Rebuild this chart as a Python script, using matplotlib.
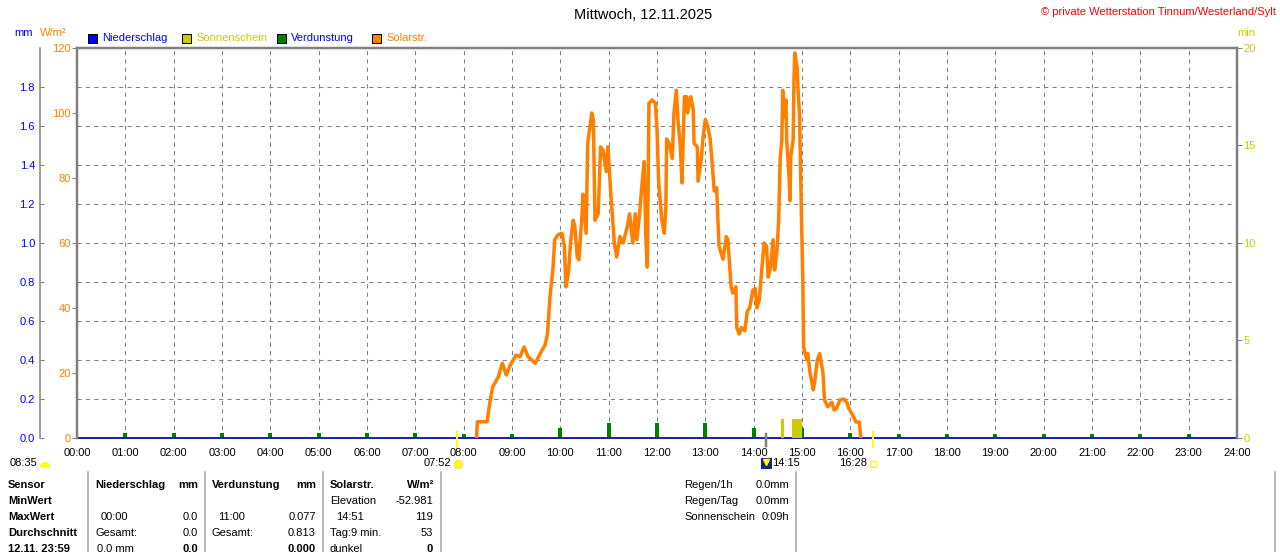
import matplotlib
matplotlib.use('Agg')
import matplotlib.pyplot as plt
import matplotlib.patches as mpatches
from matplotlib.lines import Line2D

plt.rcParams['font.family'] = ['Liberation Sans', 'DejaVu Sans']

W, H = 1280, 552

# --- data ---
solar_times = ["08:16", "08:17", "08:29", "08:33", "08:36", "08:43", "08:48", "08:53", "08:58",
               "09:05", "09:10", "09:15", "09:20", "09:29", "09:35", "09:41", "09:44", "09:47",
               "09:51", "09:53", "09:57", "10:02", "10:05", "10:07", "10:10", "10:13", "10:16",
               "10:18", "10:21", "10:23", "10:27", "10:28", "10:32", "10:34", "10:39", "10:41",
               "10:43", "10:47", "10:50", "10:53", "10:57", "10:59", "11:03", "11:07", "11:10",
               "11:14", "11:18", "11:23", "11:26", "11:30", "11:33", "11:35", "11:38", "11:41",
               "11:44", "11:46", "11:48", "11:50", "11:54", "11:58", "12:00", "12:02", "12:06",
               "12:09", "12:11", "12:12", "12:15", "12:19", "12:21", "12:24", "12:26", "12:29",
               "12:31", "12:34", "12:37", "12:38", "12:42", "12:45", "12:46", "12:50", "12:51",
               "12:55", "12:57", "13:00", "13:03", "13:06", "13:08", "13:11", "13:14", "13:17",
               "13:22", "13:26", "13:28", "13:32", "13:34", "13:38", "13:39", "13:42", "13:45",
               "13:49", "13:52", "13:55", "13:59", "14:02", "14:04", "14:07", "14:10", "14:13",
               "14:16", "14:18", "14:21", "14:24", "14:26", "14:29", "14:31", "14:33", "14:35",
               "14:36", "14:38", "14:40", "14:41", "14:44", "14:45", "14:46", "14:49", "14:50",
               "14:51", "14:54", "14:55", "14:57", "14:59", "15:00", "15:01", "15:02", "15:06",
               "15:07", "15:10", "15:14", "15:16", "15:19", "15:22", "15:26", "15:28", "15:32",
               "15:37", "15:40", "15:43", "15:47", "15:52", "15:56", "15:58", "16:03", "16:07",
               "16:11", "16:13"]
solar_vals = [0, 5, 5, 11.7, 15.7, 18.8, 23, 19.4, 22.5,
              25.5, 25, 28, 25, 23, 26, 28.6, 32, 43,
              52.6, 61, 62.5, 63, 59, 46.5, 50.7, 61, 67,
              65, 55.7, 54.8, 69, 75, 63, 90.7, 100, 98,
              67, 69, 89.6, 88.6, 82, 89.6, 74, 60, 55.7,
              62, 60, 65, 69, 60, 69, 61, 68, 77,
              85, 63, 52.6, 103, 104, 103, 95, 79, 67,
              63, 71, 92, 90.7, 86, 100, 107, 98, 89.6,
              78.5, 105, 105, 100, 105, 101, 90.7, 89.6, 79,
              86, 92, 98, 96, 92, 86, 76, 77, 59,
              55, 62, 61, 46.5, 44.6, 46.5, 34, 32, 34,
              33, 39, 40, 45.5, 46, 40, 42.5, 51.7, 60,
              59, 49.5, 52.6, 61, 51.7, 57.8, 67, 86.5, 91.7,
              107, 98.8, 104, 91.7, 80, 73, 86.5, 91.7, 110,
              118.5, 114, 108, 98.8, 72.3, 61, 48.6, 28, 24,
              26, 20, 14.8, 17.8, 24, 26, 20, 11.7, 9.6,
              11, 8.6, 9.2, 11.7, 12, 10.8, 9.2, 7, 4.9,
              4.9, 0]

verd_hours = list(range(1, 24))
verd_vals = [0.026, 0.026, 0.026, 0.026, 0.026, 0.026, 0.026, 0.02, 0.02, 0.05, 0.077, 0.077,
             0.077, 0.05, 0.05, 0.027, 0.022, 0.022, 0.022, 0.022, 0.022, 0.022, 0.022]

rain_hours = list(range(0, 25))
rain_vals = [0.0] * 25

sun_start = ["14:34", "14:48"]
sun_end = ["14:38", "15:00"]
sun_minutes = [1, 1]

sunrise, sunset, moon_time, day_length = "07:52", "16:28", "14:15", "08:35"

hour_labels = ["%02d:00" % h for h in range(25)]
mm_ticks = [0.0, 0.2, 0.4, 0.6, 0.8, 1.0, 1.2, 1.4, 1.6, 1.8]
wm_ticks = [0, 20, 40, 60, 80, 100, 120]
min_ticks = [0, 5, 10, 15, 20]


def to_h(s):
    hh, mm = s.split(":")
    return int(hh) + int(mm) / 60.0


def fx(x):
    return x / W


def fy(y):
    return 1 - y / H


ORANGE = '#FF8000'
BLUE = '#0000FF'
OLIVE = '#CCCC00'
GREEN = '#008000'
GRAY = '#808080'
YELLOW = '#FFFF00'
PX = 72.0 / 100  # points per pixel

fig = plt.figure(figsize=(W / 100, H / 100), dpi=100)
rect = [fx(77), fy(438), fx(1237) - fx(77), fy(48) - fy(438)]

ax_mm = fig.add_axes(rect)
ax_sol = ax_mm.twinx()
ax_min = ax_mm.twinx()

# mm axis (base): grid, evaporation, rain
ax_mm.set_xlim(0, 24)
ax_mm.set_ylim(0, 2.0)
ax_mm.set_xticks(range(25))
ax_mm.set_xticklabels(hour_labels)
ax_mm.set_yticks(mm_ticks)
ax_mm.set_yticklabels(["%.1f" % v for v in mm_ticks])
ax_mm.yaxis.tick_left()
ax_mm.grid(True, color=GRAY, linestyle=(0, (4, 4)), linewidth=0.75)
ax_mm.tick_params(axis='x', length=0, pad=7, labelsize=8, labelcolor='black')
ax_mm.tick_params(axis='y', direction='in', length=4 * PX, width=1 * PX, color=GRAY,
                  labelcolor=BLUE, labelsize=8, pad=5 * PX)
for s in ['top', 'right']:
    ax_mm.spines[s].set_visible(False)
ax_mm.spines['left'].set_position(('outward', 37 * PX))
ax_mm.spines['left'].set_color(GRAY)
ax_mm.spines['left'].set_linewidth(1.5 * PX)
ax_mm.spines['bottom'].set_color(GRAY)
ax_mm.spines['bottom'].set_linewidth(2 * PX)

ax_mm.bar(verd_hours, verd_vals, width=0.08, color=GREEN, zorder=2)
ax_mm.plot(rain_hours, rain_vals, color='#0000CC', linewidth=1.5 * PX, zorder=3, clip_on=False)

# solar radiation axis
ax_sol.set_ylim(0, 120)
ax_sol.yaxis.tick_left()
ax_sol.set_yticks(wm_ticks)
ax_sol.tick_params(axis='y', direction='out', length=5 * PX, width=1 * PX, color=GRAY,
                   labelcolor=ORANGE, labelsize=8, pad=1)
for s in ['right', 'bottom']:
    ax_sol.spines[s].set_visible(False)
for s in ['left', 'top']:
    ax_sol.spines[s].set_color(GRAY)
    ax_sol.spines[s].set_linewidth(2.5 * PX)
ax_sol.plot([to_h(t) for t in solar_times], solar_vals, color=ORANGE, linewidth=3.5 * PX)

# sunshine axis
ax_min.set_ylim(0, 20)
ax_min.set_yticks(min_ticks)
ax_min.tick_params(axis='y', direction='out', length=5 * PX, width=1 * PX, color=GRAY,
                   labelcolor=OLIVE, labelsize=8, pad=1)
for s in ['left', 'top', 'bottom']:
    ax_min.spines[s].set_visible(False)
ax_min.spines['right'].set_color(GRAY)
ax_min.spines['right'].set_linewidth(2.5 * PX)
starts = [to_h(t) for t in sun_start]
widths = [to_h(e) - to_h(s) for s, e in zip(sun_start, sun_end)]
ax_min.bar(starts, sun_minutes, width=widths, align='edge', color=OLIVE)

# sunrise / sunset / moon markers crossing the axis
for t in [sunrise, sunset]:
    ax_min.plot([to_h(t), to_h(t)], [0.3, -0.45], color=YELLOW, linewidth=2 * PX, clip_on=False)
ax_min.plot([to_h(moon_time), to_h(moon_time)], [0.2, -0.4], color=GRAY, linewidth=2.5 * PX,
            clip_on=False)

# header texts
fig.text(fx(643), fy(15), "Mittwoch, 12.11.2025", ha='center', va='center', fontsize=10.5)
fig.text(fx(1276), fy(12), "© private Wetterstation Tinnum/Westerland/Sylt", ha='right',
         va='center', fontsize=8, color='red')
fig.text(fx(14), fy(33), "mm", ha='left', va='center', fontsize=8, color=BLUE)
fig.text(fx(40), fy(33), "W/m²", ha='left', va='center', fontsize=8, color=ORANGE)
fig.text(fx(1237), fy(33), "min", ha='left', va='center', fontsize=8, color=OLIVE)

legend_items = [(88, BLUE, "Niederschlag", BLUE), (182, OLIVE, "Sonnenschein", OLIVE),
                (277, GREEN, "Verdunstung", BLUE), (372, ORANGE, "Solarstr.", ORANGE)]
for x0, fc, label, tc in legend_items:
    fig.add_artist(mpatches.Rectangle((fx(x0), fy(43)), 9 / W, 9 / H, facecolor=fc,
                                      edgecolor='black', linewidth=1 * PX, transform=fig.transFigure))
    fig.text(fx(x0 + 14), fy(38), label, ha='left', va='center', fontsize=8, color=tc)

# under-axis sun / moon info (inch coordinates keep the icons round)
fig.text(fx(10), fy(463), day_length, ha='left', va='center', fontsize=8)
fig.add_artist(mpatches.Wedge((45 / 100, (H - 467) / 100), 0.05, 0, 180, facecolor=YELLOW,
                              edgecolor='none', transform=fig.dpi_scale_trans))
fig.text(fx(451), fy(463), sunrise, ha='right', va='center', fontsize=8)
fig.add_artist(Line2D([fx(458)], [fy(464)], marker='o', markersize=6, color=YELLOW,
                      markeredgecolor='#FFE080', transform=fig.transFigure))
fig.add_artist(mpatches.Rectangle((fx(761), fy(469)), 11 / W, 11 / H, facecolor='#1A237E',
                                  edgecolor='none', transform=fig.transFigure))
fig.add_artist(Line2D([fx(766)], [fy(462)], marker='v', markersize=4, color=YELLOW,
                      linestyle='none', transform=fig.transFigure))
fig.text(fx(772), fy(463), moon_time, ha='left', va='center', fontsize=8)
fig.text(fx(867), fy(463), sunset, ha='right', va='center', fontsize=8)
fig.add_artist(Line2D([fx(873)], [fy(464)], marker='s', markersize=5, markerfacecolor='none',
                      markeredgecolor=YELLOW, markeredgewidth=1, transform=fig.transFigure))

# table
for x in [88, 205, 323, 441, 796, 1275]:
    fig.add_artist(Line2D([fx(x), fx(x)], [fy(472), fy(552)], color='#A0A0A0',
                          linewidth=1.5 * PX, transform=fig.transFigure))

rows_y = [485, 501, 517, 533, 549]
cells = [
    # (x, row, text, align, bold)
    (8, 0, "Sensor", 'left', True), (8, 1, "MinWert", 'left', True),
    (8, 2, "MaxWert", 'left', True), (8, 3, "Durchschnitt", 'left', True),
    (8, 4, "12.11. 23:59", 'left', True),
    (95, 0, "Niederschlag", 'left', True), (198, 0, "mm", 'right', True),
    (101, 2, "00:00", 'left', False), (198, 2, "0.0", 'right', False),
    (95, 3, "Gesamt:", 'left', False), (198, 3, "0.0", 'right', False),
    (97, 4, "0.0 mm", 'left', False), (198, 4, "0.0", 'right', True),
    (212, 0, "Verdunstung", 'left', True), (316, 0, "mm", 'right', True),
    (218, 2, "11:00", 'left', False), (316, 2, "0.077", 'right', False),
    (212, 3, "Gesamt:", 'left', False), (316, 3, "0.813", 'right', False),
    (316, 4, "0.000", 'right', True),
    (330, 0, "Solarstr.", 'left', True), (434, 0, "W/m²", 'right', True),
    (330, 1, "Elevation", 'left', False), (433, 1, "-52.981", 'right', False),
    (336, 2, "14:51", 'left', False), (433, 2, "119", 'right', False),
    (330, 3, "Tag:9 min.", 'left', False), (433, 3, "53", 'right', False),
    (330, 4, "dunkel", 'left', False), (433, 4, "0", 'right', True),
    (684, 0, "Regen/1h", 'left', False), (789, 0, "0.0mm", 'right', False),
    (684, 1, "Regen/Tag", 'left', False), (789, 1, "0.0mm", 'right', False),
    (684, 2, "Sonnenschein", 'left', False), (789, 2, "0:09h", 'right', False),
]
for x, r, txt, ha, bold in cells:
    fig.text(fx(x), fy(rows_y[r]), txt, ha=ha, va='center', fontsize=8,
             fontweight='bold' if bold else 'normal')

fig.savefig("out.png", dpi=100)
